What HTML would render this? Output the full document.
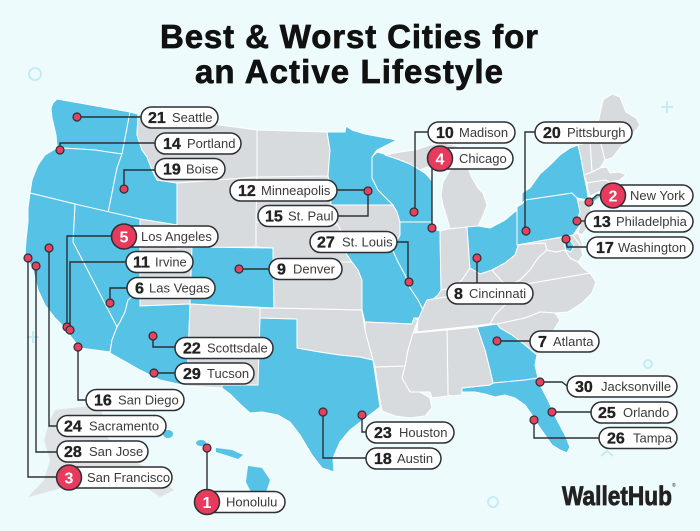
<!DOCTYPE html>
<html><head><meta charset="utf-8"><style>
html,body{margin:0;padding:0;background:#eefbfd;}
svg{display:block;}
.st{stroke:#fff;stroke-width:1;stroke-linejoin:round;}
.b{fill:#55c2e6;}
.g{fill:#d8dbde;}
.ld{fill:none;stroke:#2c2f33;stroke-width:1.4;}
.dot{fill:#e8405f;stroke:#2c2f33;stroke-width:1.2;}
.pill{fill:#fff;stroke:#2c2f33;stroke-width:1.5;}
.red{fill:#e83a5c;stroke:#2c2f33;stroke-width:1.5;}
.n{font-family:"Liberation Sans",sans-serif;font-weight:700;font-size:16px;fill:#222;stroke:#222;stroke-width:0.35;}
.w{font-family:"Liberation Sans",sans-serif;font-weight:700;font-size:16px;fill:#fff;}
.c{font-family:"Liberation Sans",sans-serif;font-size:13px;fill:#3a3a3a;}
.deco{fill:none;stroke:#c4ecf3;stroke-width:2;}
</style></head><body>
<svg width="700" height="531" viewBox="0 0 700 531" xmlns="http://www.w3.org/2000/svg">
<rect width="700" height="531" fill="#eefbfd"/>
<!-- decorations -->
<circle class="deco" cx="35" cy="74" r="6"/>
<path class="deco" d="M661 107h12M667 101v12"/>
<path class="deco" d="M27 337h12M33 331v12"/>
<circle class="deco" cx="648" cy="364" r="4"/>
<circle class="deco" cx="493" cy="502" r="5"/>
<path class="deco" d="M601 456l6-5 6 5"/>

<!-- title -->
<text x="160" y="48" textLength="378" font-family="Liberation Sans, sans-serif" font-weight="700" font-size="33" fill="#111" stroke="#111" stroke-width="0.7">Best &amp; Worst Cities for</text>
<text x="195" y="83" textLength="308" font-family="Liberation Sans, sans-serif" font-weight="700" font-size="33" fill="#111" stroke="#111" stroke-width="0.7">an Active Lifestyle</text>

<!-- Alaska -->
<path fill="#e0e3e5" d="M55 410 L100 405 L108 438 L128 458 L150 470 L174 490 L160 497 L138 482 L110 472 L80 480 L55 490 L28 497 L44 480 L50 460 L44 440 L50 420Z"/>

<!-- states -->
<g class="st">
<polygon class="b" points="53,103 57,99 130,112 122,154 108,152 95,150 80,149 62,148 57,146 56,135 52,118 51,108"/>
<polygon class="b" points="62,148 80,149 95,150 108,152 122,154 117,168 115,178 108,213 75,204 30,193 32,180 38,165 45,155 55,149"/>
<polygon class="b" points="130,112 138,114 137,135 142,150 147,157 152,170 157,180 177,183 177,225 140,219 108,213 115,178 117,168 122,154"/>
<polygon class="g" points="138,114 257,130 257,177 177,183 157,180 152,170 147,157 142,150 137,135"/>
<polygon class="g" points="177,183 257,177 256,247 177,248"/>
<polygon class="g" points="140,219 177,225 177,248 192,247 190,304 140,306"/>
<polygon class="b" points="192,247 273,248 274,308 190,304"/>
<polygon class="b" points="75,204 140,219 140,295 133,296 128,300 125,312 120,322 117,327 73,242"/>
<polygon class="b" points="30,193 75,204 73,242 117,327 112,340 110,352 80,348 72,338 63,326 55,318 45,305 38,290 33,270 25,255 26,240 28,222 28,208"/>
<polygon class="b" points="140,295 140,306 190,304 187,386 160,380 140,370 110,353 112,340 117,327 120,322 125,312 128,300 133,296"/>
<polygon class="g" points="190,304 260,308 260,318 258,385 222,385 222,388 187,386"/>
<polygon class="b" points="260,318 297,319 297,348 320,352 340,355 360,357 373,360 376,380 380,407 367,417 350,430 340,442 333,458 334,472 322,468 312,455 300,435 290,422 278,415 262,412 250,413 240,404 230,394 222,388 222,385 258,385"/>
<polygon class="g" points="260,308 274,308 362,310 365,330 373,360 360,357 340,355 320,352 297,348 297,319 260,318"/>
<polygon class="g" points="273,262 352,262 358,270 362,280 362,310 274,308"/>
<polygon class="g" points="256,222 338,225 343,235 348,248 352,262 273,262 273,248 256,247"/>
<polygon class="g" points="257,177 328,176 330,183 331,205 333,215 338,225 256,222"/>
<polygon class="g" points="257,130 327,132 330,150 328,176 257,177"/>
<polygon class="b" points="327,132 345,132 346,126 352,130 365,134 397,140 377,150 372,157 372,178 378,190 393,205 331,205 330,183 328,176 330,150"/>
<polygon class="g" points="331,205 393,205 397,212 403,222 400,235 395,245 393,251 345,252 343,235 338,225 333,215"/>
<polygon class="b" points="372,157 377,152 388,155 400,160 410,164 420,170 426,174 433,182 433,200 432,222 400,222 397,212 393,205 378,190 372,178"/>
<polygon class="g" points="385,155 400,152 415,150 430,145 445,143 460,147 465,155 452,160 440,162 430,166 420,170 410,164 400,160"/>
<polygon class="g" points="443,182 450,170 458,165 468,168 472,178 478,188 483,193 487,205 482,218 478,226 450,229 447,218 443,205 441,195"/>
<polygon class="b" points="400,222 432,222 434,229 440,231 441,290 437,298 430,305 424,312 418,300 410,288 405,275 398,262 393,251 395,245 400,235"/>
<polygon class="b" points="345,252 393,251 398,262 405,275 410,288 418,300 424,312 425,318 414,318 412,324 365,322 362,310 362,280 358,270 352,262"/>
<polygon class="g" points="440,231 448,229 467,227 470,268 462,280 452,288 441,290"/>
<polygon class="b" points="467,227 478,226 490,228 505,220 517,210 518,225 520,240 515,255 505,263 492,270 480,274 470,268"/>
<polygon class="g" points="424,306 432,300 438,295 441,290 452,288 462,280 470,268 480,274 492,270 500,279 507,287 427,300"/>
<polygon class="g" points="418,320 424,306 427,300 507,287 520,285 515,295 505,305 495,315 490,324 417,332"/>
<polygon class="g" points="520,285 590,273 596,282 592,293 582,303 568,312 555,313 540,312 525,318 497,324 490,324 495,315 505,305 515,295"/>
<polygon class="g" points="497,324 525,318 540,312 555,313 560,320 552,333 545,343 537,355 525,345 512,335 500,328"/>
<polygon class="b" points="477,327 497,324 500,328 512,335 525,345 537,355 535,365 538,378 525,380 493,383 490,370 485,350"/>
<polygon class="b" points="462,388 490,385 493,383 525,380 538,378 540,385 548,400 556,418 565,435 570,447 567,453 560,450 552,445 545,435 538,425 532,415 525,405 515,398 505,395 495,397 485,394 475,392 462,392"/>
<polygon class="g" points="447,330 477,327 485,350 490,370 493,383 490,385 462,388 462,395 452,396 448,395"/>
<polygon class="g" points="413,333 447,330 448,396 432,398 430,392 420,392 410,392 402,378 405,366 408,350"/>
<polygon class="g" points="375,367 405,366 402,378 410,392 420,392 430,398 432,408 425,416 410,418 395,416 382,411 380,400 377,380"/>
<polygon class="g" points="365,322 412,324 414,318 418,320 413,333 408,350 405,366 375,367 373,360 365,330"/>
<polygon class="g" points="520,240 527,244 545,243 547,250 538,258 530,270 520,280 507,287 500,279 492,270 505,263 515,255"/>
<polygon class="g" points="507,287 520,280 530,270 538,258 547,250 556,252 565,250 570,258 578,262 583,268 590,273 520,285"/>
<polygon class="g" points="517,245 573,235 580,245 583,255 578,262 570,258 565,250 556,252 547,250 545,243 527,244"/>
<polygon class="g" points="573,235 578,233 582,243 583,255 580,245"/>
<polygon class="g" points="577,200 588,200 590,205 592,215 587,228 582,235 578,233 580,225 577,220 580,212"/>
<polygon class="b" points="517,207 522,204 525,200 572,193 577,198 580,212 577,220 580,225 573,235 517,245"/>
<polygon class="b" points="522,204 522,193 530,188 540,174 550,165 560,155 570,148 578,145 581,158 584,175 587,190 588,198 597,196 603,195 592,203 588,200 577,198 572,193 525,200"/>
<polygon class="g" points="578,145 590,142 591,155 592,172 584,175 581,158"/>
<polygon class="g" points="590,142 598,123 600,140 605,160 600,168 592,172 591,155"/>
<polygon class="g" points="598,123 603,100 612,94 620,97 626,112 636,118 640,125 632,135 620,148 612,158 605,160 600,140"/>
<polygon class="g" points="584,175 592,172 600,168 607,167 610,173 620,172 626,175 620,180 610,182 605,180 587,183"/>
<polygon class="g" points="587,183 605,180 610,182 607,188 590,196 588,190"/>
<polygon class="b" points="564,242 570,240 574,246 571,252 566,250"/>
</g>
<!-- Hawaii -->
<g class="b">
<ellipse cx="168" cy="434" rx="5" ry="4"/>
<ellipse cx="201" cy="443" rx="5" ry="3"/>
<path d="M216 448 L232 450 L243 455 L238 459 L226 455 L216 452Z"/>
<path d="M248 466 L262 468 L270 480 L266 492 L252 494 L246 482Z"/>
</g>

<!-- leader lines -->
<g class="ld">
<polyline points="77,117 141,117"/>
<polyline points="60,150 60,143 155,143"/>
<polyline points="124,189 124,170 155,170"/>
<polyline points="337,190 368,190"/>
<polyline points="338,216 368,216 368,192"/>
<polyline points="67,327 67,236 112,236"/>
<polyline points="70,330 70,262 126,262"/>
<polyline points="110,303 110,288 127,288"/>
<polyline points="239,269 269,269"/>
<polyline points="397,242 408,242 408,282"/>
<polyline points="428,132 415,132 415,212"/>
<polyline points="432,165 432,228"/>
<polyline points="535,132 525,132 525,231"/>
<polyline points="589,202 597,195 601,195"/>
<polyline points="577,221 585,221"/>
<polyline points="566,239 567,247 587,247"/>
<polyline points="477,258 477,283"/>
<polyline points="497,341 530,341"/>
<polyline points="540,382 562,382 567,386"/>
<polyline points="552,412 591,412"/>
<polyline points="534,420 534,438 599,438"/>
<polyline points="362,415 362,432 366,432"/>
<polyline points="323,412 323,458 366,458"/>
<polyline points="153,336 153,347 175,347"/>
<polyline points="154,373 175,373"/>
<polyline points="78,347 78,400 86,400"/>
<polyline points="49,248 49,426 57,426"/>
<polyline points="36,266 36,452 57,452"/>
<polyline points="28,258 28,477 57,477"/>
<polyline points="207,448 207,490"/>
</g>
<!-- dots -->
<g class="dot">
<circle cx="77" cy="117" r="4"/><circle cx="60" cy="150" r="4"/><circle cx="124" cy="189" r="4"/>
<circle cx="368" cy="191" r="4"/><circle cx="67" cy="327" r="4"/><circle cx="70" cy="330" r="4"/>
<circle cx="110" cy="303" r="4"/><circle cx="239" cy="269" r="4"/><circle cx="409" cy="282" r="4"/>
<circle cx="414" cy="212" r="4"/><circle cx="432" cy="228" r="4"/><circle cx="526" cy="231" r="4"/>
<circle cx="589" cy="202" r="4"/><circle cx="577" cy="221" r="4"/><circle cx="566" cy="239" r="4"/>
<circle cx="477" cy="258" r="4"/><circle cx="497" cy="341" r="4"/><circle cx="540" cy="382" r="4"/>
<circle cx="552" cy="412" r="4"/><circle cx="534" cy="420" r="4"/><circle cx="362" cy="415" r="4"/>
<circle cx="323" cy="412" r="4"/><circle cx="153" cy="336" r="4"/><circle cx="154" cy="373" r="4"/>
<circle cx="78" cy="347" r="4"/><circle cx="49" cy="248" r="4"/><circle cx="36" cy="266" r="4"/>
<circle cx="28" cy="258" r="4"/><circle cx="207" cy="448" r="4"/>
</g>

<!-- pills -->
<g>
<rect class="pill" x="141" y="107" width="77" height="21" rx="10.5"/>
<text class="n" x="148" y="123">21</text><text class="c" x="172" y="122">Seattle</text>

<rect class="pill" x="155" y="133" width="86" height="21" rx="10.5"/>
<text class="n" x="163" y="149">14</text><text class="c" x="187" y="148">Portland</text>

<rect class="pill" x="155" y="158.5" width="70" height="21" rx="10.5"/>
<text class="n" x="163" y="174.5">19</text><text class="c" x="186" y="173.5">Boise</text>

<rect class="pill" x="230" y="180" width="107" height="21" rx="10.5"/>
<text class="n" x="238" y="196">12</text><text class="c" x="261" y="195">Minneapolis</text>

<rect class="pill" x="258" y="205.5" width="80" height="21" rx="10.5"/>
<text class="n" x="265" y="221.5">15</text><text class="c" x="288" y="220.5">St. Paul</text>

<rect class="pill" x="120" y="226" width="98" height="21" rx="10.5"/>
<circle class="red" cx="124" cy="236.5" r="12.5"/>
<text class="w" x="124" y="242.5" text-anchor="middle">5</text><text class="c" x="141" y="241">Los Angeles</text>

<rect class="pill" x="126" y="251.5" width="67" height="21" rx="10.5"/>
<text class="n" x="133" y="267.5">11</text><text class="c" x="155" y="266.5">Irvine</text>

<rect class="pill" x="127" y="277.5" width="88" height="21" rx="10.5"/>
<text class="n" x="135" y="293.5">6</text><text class="c" x="149" y="292.5">Las Vegas</text>

<rect class="pill" x="269" y="258.5" width="73" height="21" rx="10.5"/>
<text class="n" x="277" y="274.5">9</text><text class="c" x="293" y="273.5">Denver</text>

<rect class="pill" x="310" y="231.5" width="87" height="21" rx="10.5"/>
<text class="n" x="317" y="247.5">27</text><text class="c" x="342" y="246.5">St. Louis</text>

<rect class="pill" x="428" y="122" width="87" height="21" rx="10.5"/>
<text class="n" x="436" y="138">10</text><text class="c" x="459" y="137">Madison</text>

<rect class="pill" x="433" y="148" width="80" height="21" rx="10.5"/>
<circle class="red" cx="440" cy="158.5" r="12.5"/>
<text class="w" x="440" y="164.5" text-anchor="middle">4</text><text class="c" x="459" y="163">Chicago</text>

<rect class="pill" x="535" y="122" width="97" height="21" rx="10.5"/>
<text class="n" x="543" y="138">20</text><text class="c" x="567" y="137">Pittsburgh</text>

<rect class="pill" x="602" y="185" width="91" height="21" rx="10.5"/>
<circle class="red" cx="613" cy="195.5" r="12.5"/>
<text class="w" x="613" y="201.5" text-anchor="middle">2</text><text class="c" x="630" y="200">New York</text>

<rect class="pill" x="585" y="211" width="108" height="21" rx="10.5"/>
<text class="n" x="593" y="227">13</text><text class="c" x="616" y="226">Philadelphia</text>

<rect class="pill" x="587" y="237" width="106" height="21" rx="10.5"/>
<text class="n" x="596" y="253">17</text><text class="c" x="618" y="252">Washington</text>

<rect class="pill" x="447" y="283" width="86" height="21" rx="10.5"/>
<text class="n" x="454" y="299">8</text><text class="c" x="469" y="298">Cincinnati</text>

<rect class="pill" x="530" y="331" width="69" height="21" rx="10.5"/>
<text class="n" x="538" y="347">7</text><text class="c" x="553" y="346">Atlanta</text>

<rect class="pill" x="567" y="376" width="110" height="21" rx="10.5"/>
<text class="n" x="575" y="392">30</text><text class="c" x="601" y="391">Jacksonville</text>

<rect class="pill" x="591" y="402" width="86" height="21" rx="10.5"/>
<text class="n" x="598" y="418">25</text><text class="c" x="623" y="417">Orlando</text>

<rect class="pill" x="599" y="427.5" width="78" height="21" rx="10.5"/>
<text class="n" x="607" y="443.5">26</text><text class="c" x="633" y="442.5">Tampa</text>

<rect class="pill" x="366" y="422" width="88" height="21" rx="10.5"/>
<text class="n" x="374" y="438">23</text><text class="c" x="399" y="437">Houston</text>

<rect class="pill" x="366" y="448" width="75" height="21" rx="10.5"/>
<text class="n" x="374" y="464">18</text><text class="c" x="397" y="463">Austin</text>

<rect class="pill" x="175" y="337.5" width="98" height="21" rx="10.5"/>
<text class="n" x="183" y="353.5">22</text><text class="c" x="207" y="352.5">Scottsdale</text>

<rect class="pill" x="175" y="363" width="79" height="21" rx="10.5"/>
<text class="n" x="183" y="379">29</text><text class="c" x="207" y="378">Tucson</text>

<rect class="pill" x="86" y="389.5" width="98" height="21" rx="10.5"/>
<text class="n" x="94" y="405.5">16</text><text class="c" x="118" y="404.5">San Diego</text>

<rect class="pill" x="57" y="415.5" width="109" height="21" rx="10.5"/>
<text class="n" x="64" y="431.5">24</text><text class="c" x="89" y="430.5">Sacramento</text>

<rect class="pill" x="57" y="441" width="91" height="21" rx="10.5"/>
<text class="n" x="64" y="457">28</text><text class="c" x="89" y="456">San Jose</text>

<rect class="pill" x="57" y="467" width="115" height="21" rx="10.5"/>
<circle class="red" cx="69" cy="477.5" r="12.5"/>
<text class="w" x="69" y="483.5" text-anchor="middle">3</text><text class="c" x="87" y="482">San Francisco</text>

<rect class="pill" x="195" y="491.5" width="90" height="21" rx="10.5"/>
<circle class="red" cx="207" cy="502" r="12.5"/>
<text class="w" x="207" y="508" text-anchor="middle">1</text><text class="c" x="226" y="506.5">Honolulu</text>
</g>

<!-- logo -->
<text x="562" y="505" textLength="110" lengthAdjust="spacingAndGlyphs" font-family="Liberation Sans, sans-serif" font-weight="700" font-size="27" fill="#222" stroke="#222" stroke-width="0.8">WalletHub</text>
<text x="672" y="487" font-family="Liberation Sans, sans-serif" font-size="5" fill="#222">®</text>
</svg>
</body></html>
